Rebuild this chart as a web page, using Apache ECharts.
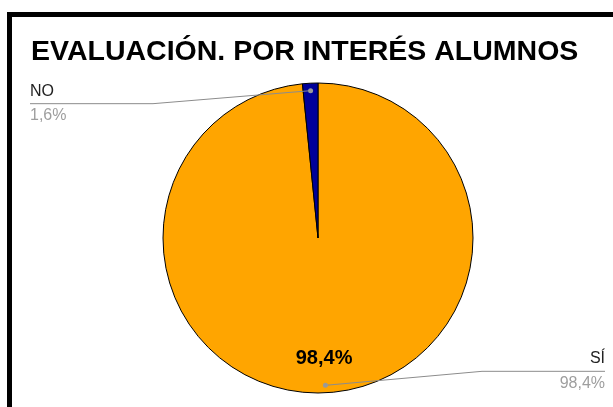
<!DOCTYPE html>
<html>
<head>
<meta charset="utf-8">
<script src="https://cdn.jsdelivr.net/npm/echarts@6/dist/echarts.min.js"></script>
<style>
  html, body { margin: 0; padding: 0; background: #fff; }
  #viz { width: 613px; height: 407px; }
</style>
</head>
<body>
<div id="viz"></div>
<script>
// Evaluation by student interest - pie

const categories = ['SÍ', 'NO'];
const percents = [98.4, 1.6];
const sliceColors = ['#FFA500', '#000099'];

function fmtPct(v) {
    return v.toFixed(1).replace('.', ',') + '%';
}

var myChart = echarts.init(document.getElementById('viz'));

const pieCenter = [318, 238];
const pieRadius = 155;
const fontFam = 'Liberation Sans, Arial, sans-serif';

const mainData = categories.map((name, i) => ({
    name: name,
    value: percents[i],
    itemStyle: { color: sliceColors[i] }
}));

const plainData = categories.map((name, i) => ({ name: name, value: percents[i] }));

// shared settings for the invisible helper rings
// (inside labels sit 3px outward of the ring middle)
function ring(radius, z, extra) {
    return Object.assign({
        type: 'pie',
        center: pieCenter,
        radius: radius,
        startAngle: 90,
        clockwise: true,
        silent: true,
        z: z,
        data: plainData,
        itemStyle: { color: 'rgba(0,0,0,0)' },
        labelLine: { show: false }
    }, extra);
}

var option = {
    animation: false,
    title: {
        text: 'EVALUACIÓN. POR INTERÉS ALUMNOS',
        left: 31,
        top: 38,
        padding: 0,
        textStyle: {
            fontFamily: fontFam,
            fontSize: 28.5,
            fontWeight: 'bold',
            color: '#000'
        }
    },
    graphic: [{
        type: 'rect',
        shape: { x: 9.5, y: 14.5, width: 700, height: 500 },
        style: { fill: 'none', stroke: '#000', lineWidth: 5 },
        silent: true
    }],
    series: [
        {
            // visible pie
            type: 'pie',
            center: pieCenter,
            radius: pieRadius,
            startAngle: 90,
            clockwise: true,
            z: 2,
            data: mainData,
            itemStyle: { borderColor: '#000', borderWidth: 1 },
            emphasis: { disabled: true },
            label: { show: false },
            labelLine: { show: false }
        },
        ring([81, pieRadius], 3, {
            // bold label inside the big slice
            label: {
                position: 'inside',
                formatter: p => p.value > 5 ? fmtPct(p.value) : '',
                fontFamily: fontFam,
                fontSize: 20,
                fontWeight: 'bold',
                color: '#000'
            }
        }),
        ring([pieRadius, pieRadius], 4, {
            // outside labels, line drawn over the pie
            label: {
                position: 'outside',
                formatter: p => '{n|' + p.name + '}\n{p|' + fmtPct(p.value) + '}',
                rich: {
                    n: { fontFamily: fontFam, fontSize: 16, color: '#222', lineHeight: 24 },
                    p: { fontFamily: fontFam, fontSize: 16, color: '#9e9e9e', lineHeight: 25 }
                }
            },
            labelLine: {
                show: true,
                length: 10,
                length2: 10,
                lineStyle: { color: '#8c8c8c', width: 1 }
            },
            labelLayout: function (params) {
                var pts = params.labelLinePoints;
                if (!pts) return {};
                var p0 = pts[0], p1 = pts[1];
                var dx = p0[0] - p1[0], dy = p0[1] - p1[1];
                var len = Math.sqrt(dx * dx + dy * dy) || 1;
                // start a little inside the slice, at the dot
                var start = [p0[0] + dx / len * 7.5, p0[1] + dy / len * 7.5];
                var isLeft = p1[0] < p0[0];
                var isTop = p1[1] < p0[1];
                var lineY = isTop ? start[1] + 13 : start[1] - 14;
                var edgeX = isLeft ? 30 : myChart.getWidth() - 8;
                var knee = isLeft ? edgeX + 123 : edgeX - 123;
                return {
                    x: edgeX,
                    y: lineY,
                    align: isLeft ? 'left' : 'right',
                    verticalAlign: 'middle',
                    labelLinePoints: [start, [knee, lineY], [edgeX, lineY]]
                };
            }
        }),
        ring([134, pieRadius], 5, {
            // dots where the label lines start
            label: {
                position: 'inside',
                formatter: '{d|}',
                fontSize: 5,
                lineHeight: 5,
                rich: {
                    d: { width: 5, height: 5, lineHeight: 5, fontSize: 5, borderRadius: 2.5, backgroundColor: '#999' }
                }
            }
        })
    ]
};

myChart.setOption(option);
</script>
</body>
</html>
